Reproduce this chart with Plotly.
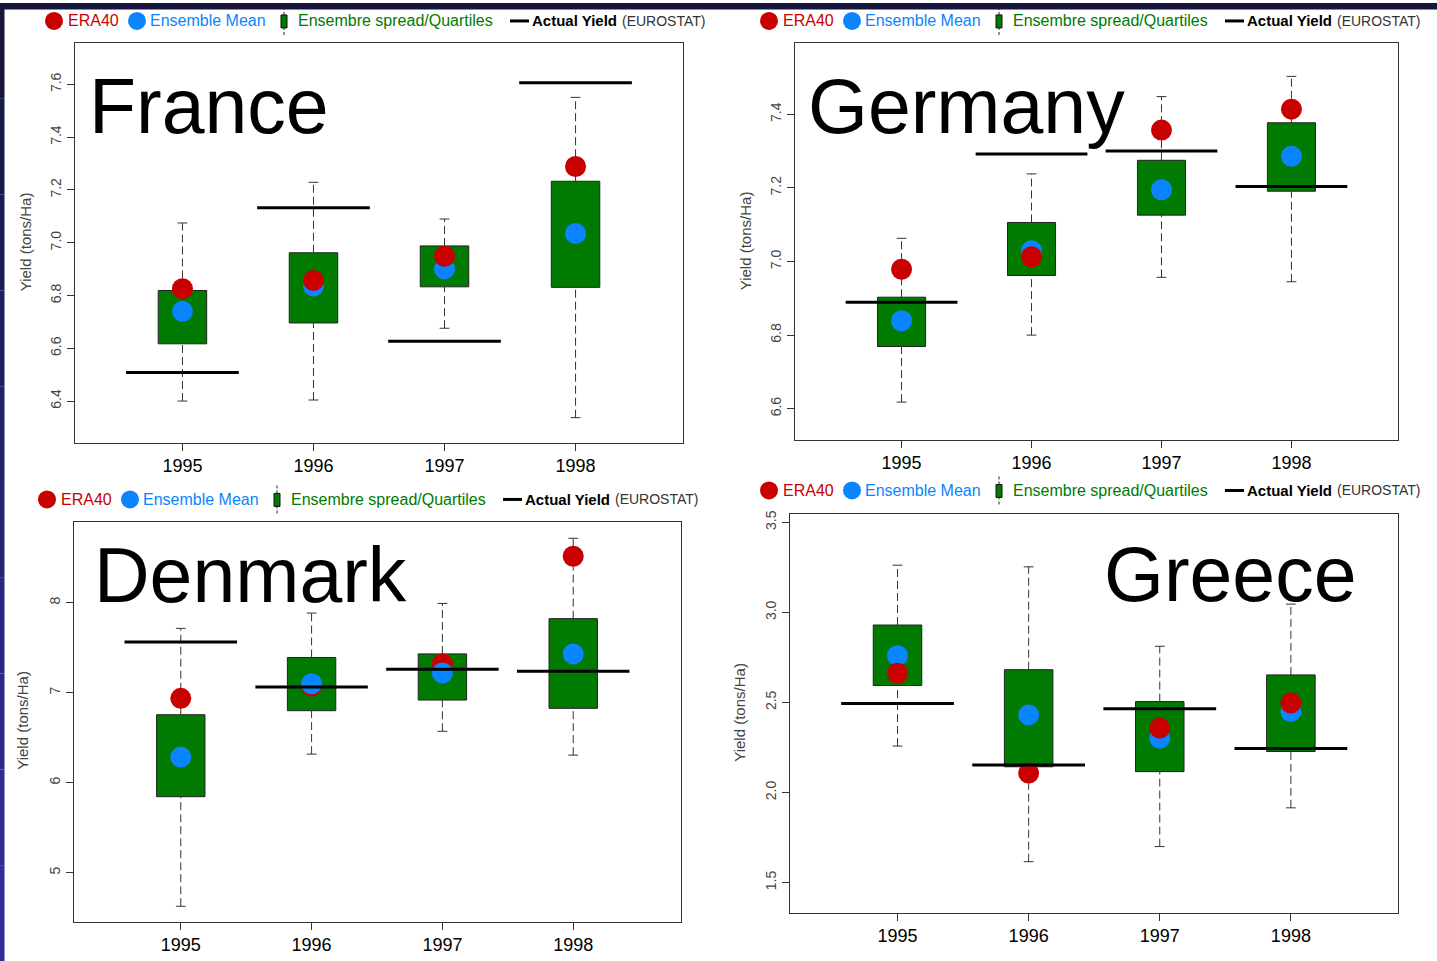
import plotly.graph_objects as go

years = ["1995", "1996", "1997", "1998"]

# France
fr_low = [6.400, 6.404, 6.676, 6.337]
fr_q1 = [6.617, 6.696, 6.833, 6.831]
fr_q3 = [6.819, 6.962, 6.988, 7.233]
fr_high = [7.075, 7.229, 7.090, 7.551]
fr_era40 = [6.826, 6.857, 6.949, 7.289]
fr_mean = [6.740, 6.836, 6.901, 7.035]
fr_actual = [6.508, 7.133, 6.627, 7.606]

# Germany
de_low = [6.618, 6.800, 6.957, 6.945]
de_q1 = [6.769, 6.962, 7.126, 7.191]
de_q3 = [6.903, 7.106, 7.275, 7.377]
de_high = [7.063, 7.238, 7.448, 7.503]
de_era40 = [6.979, 7.013, 7.357, 7.414]
de_mean = [6.839, 7.029, 7.195, 7.286]
de_actual = [6.889, 7.292, 7.300, 7.204]

# Denmark
dk_low = [4.626, 6.317, 6.571, 6.306]
dk_q1 = [5.844, 6.800, 6.918, 6.826]
dk_q3 = [6.755, 7.391, 7.431, 7.823]
dk_high = [7.715, 7.885, 7.992, 8.716]
dk_era40 = [6.937, 7.073, 7.320, 8.516]
dk_mean = [6.284, 7.099, 7.220, 7.431]
dk_actual = [7.564, 7.062, 7.261, 7.239]

# Greece
gr_low = [2.258, 1.616, 1.700, 1.915]
gr_q1 = [2.594, 2.143, 2.116, 2.228]
gr_q3 = [2.930, 2.682, 2.505, 2.653]
gr_high = [3.262, 3.253, 2.812, 3.046]
gr_era40 = [2.662, 2.108, 2.358, 2.498]
gr_mean = [2.760, 2.431, 2.302, 2.450]
gr_actual = [2.494, 2.153, 2.465, 2.245]

W, H = 1437, 961
RED = "#C80000"
BLUE = "#0A84FF"
GREEN = "#007A00"


def px(x):
    return x / W


def py(y):
    return 1 - y / H


panels = [
    dict(name="France", data=(fr_low, fr_q1, fr_q3, fr_high, fr_era40, fr_mean, fr_actual),
         xdom=(75, 683), ydom=(40, 441), yrange=[6.2425, 7.7575],
         yticks=[6.4, 6.6, 6.8, 7.0, 7.2, 7.4, 7.6], fmt=".1f",
         title=(87, 103), legend=(54, 18), ylabel=(25, 240), red_top=True),
    dict(name="Germany", data=(de_low, de_q1, de_q3, de_high, de_era40, de_mean, de_actual),
         xdom=(795, 1398), ydom=(40, 438), yrange=[6.516, 7.594],
         yticks=[6.6, 6.8, 7.0, 7.2, 7.4], fmt=".1f",
         title=(806, 103), legend=(769, 18), ylabel=(745, 239), red_top=True),
    dict(name="Denmark", data=(dk_low, dk_q1, dk_q3, dk_high, dk_era40, dk_mean, dk_actual),
         xdom=(73.5, 680.5), ydom=(521, 921.7), yrange=[4.453, 8.893],
         yticks=[5, 6, 7, 8], fmt="d",
         title=(92, 574), legend=(47, 498), ylabel=(23, 720), red_top=False),
    dict(name="Greece", data=(gr_low, gr_q1, gr_q3, gr_high, gr_era40, gr_mean, gr_actual),
         xdom=(790, 1398.4), ydom=(512.3, 912.7), yrange=[1.332, 3.548],
         yticks=[1.5, 2.0, 2.5, 3.0, 3.5], fmt=".1f",
         title=(1102, 573), legend=(769, 489), ylabel=(740, 712), red_top=True),
]

xpos = list(range(1, len(years) + 1))

fig = go.Figure()
shapes = []
annotations = []

for k, p in enumerate(panels, start=1):
    xa = "x" if k == 1 else f"x{k}"
    ya = "y" if k == 1 else f"y{k}"
    low, q1, q3, high, era, mean, actual = p["data"]

    # boxes
    fig.add_trace(go.Bar(x=xpos, y=[b - a for a, b in zip(q1, q3)], base=q1, width=0.37,
                         marker=dict(color=GREEN, line=dict(color="#222", width=1)),
                         xaxis=xa, yaxis=ya, showlegend=False, hoverinfo="skip"))
    # whiskers
    wx, wy = [], []
    for x, lo, a, b, hi in zip(xpos, low, q1, q3, high):
        wx += [x, x, None, x, x, None]
        wy += [lo, a, None, b, hi, None]
    fig.add_trace(go.Scatter(x=wx, y=wy, mode="lines",
                             line=dict(color="#333", width=1, dash="8px,4px"),
                             xaxis=xa, yaxis=ya, showlegend=False, hoverinfo="skip"))
    fig.add_trace(go.Scatter(x=xpos + xpos, y=low + high, mode="markers",
                             marker=dict(symbol="line-ew", size=7, line=dict(color="#333", width=1)),
                             xaxis=xa, yaxis=ya, showlegend=False, hoverinfo="skip"))

    red = go.Scatter(x=xpos, y=era, mode="markers", marker=dict(color=RED, size=21),
                     xaxis=xa, yaxis=ya, showlegend=False)
    blue = go.Scatter(x=xpos, y=mean, mode="markers", marker=dict(color=BLUE, size=21),
                      xaxis=xa, yaxis=ya, showlegend=False)
    if p["red_top"]:
        fig.add_trace(blue)
        fig.add_trace(red)
    else:
        fig.add_trace(red)
        fig.add_trace(blue)

    # actual yield
    ax_, ay_ = [], []
    for x, v in zip(xpos, actual):
        ax_ += [x - 0.43, x + 0.43, None]
        ay_ += [v, v, None]
    fig.add_trace(go.Scatter(x=ax_, y=ay_, mode="lines", line=dict(color="black", width=3),
                             xaxis=xa, yaxis=ya, showlegend=False, hoverinfo="skip"))

    x0, x1 = p["xdom"]
    yt, yb = p["ydom"]
    fig.layout[("xaxis" if k == 1 else f"xaxis{k}")] = dict(
        domain=[px(x0), px(x1)], anchor=ya, range=[0.18, 4.82],
        tickvals=xpos, ticktext=years, ticks="outside", ticklen=7, tickcolor="#333",
        showline=True, linecolor="#333", linewidth=1, mirror=True,
        showgrid=False, zeroline=False, tickfont=dict(size=18, color="black"))
    fig.layout[("yaxis" if k == 1 else f"yaxis{k}")] = dict(
        domain=[py(yb), py(yt)], anchor=xa, range=p["yrange"],
        tickvals=p["yticks"], tickformat=p["fmt"], tickangle=-90,
        ticks="outside", ticklen=7, tickcolor="#333",
        showline=True, linecolor="#333", linewidth=1, mirror=True,
        showgrid=False, zeroline=False, tickfont=dict(size=14, color="#444"))

    # big country title
    tx, ty = p["title"]
    annotations.append(dict(x=px(tx), y=py(ty), xref="paper", yref="paper", text=p["name"],
                            showarrow=False, xanchor="left", yanchor="middle",
                            font=dict(size=77, color="black", family="Liberation Sans")))
    # y label
    lx, ly = p["ylabel"]
    annotations.append(dict(x=px(lx), y=py(ly), xref="paper", yref="paper", text="Yield (tons/Ha)",
                            showarrow=False, textangle=-90, xanchor="center", yanchor="middle",
                            font=dict(size=15, color="#444")))

    # legend row
    ox, oy = p["legend"]
    X, Y = px(ox), py(oy)
    for dx, col in [(0, RED), (83, BLUE)]:
        shapes.append(dict(type="circle", xref="paper", yref="paper", xsizemode="pixel", ysizemode="pixel",
                           xanchor=px(ox + dx), yanchor=Y, x0=-9, x1=9, y0=-9, y1=9,
                           fillcolor=col, line=dict(width=0)))
    shapes.append(dict(type="line", xref="paper", yref="paper", xsizemode="pixel", ysizemode="pixel",
                       xanchor=px(ox + 230), yanchor=Y, x0=0, x1=0, y0=-14, y1=14,
                       line=dict(color="#222", width=1, dash="3px,2px")))
    shapes.append(dict(type="rect", xref="paper", yref="paper", xsizemode="pixel", ysizemode="pixel",
                       xanchor=px(ox + 230), yanchor=Y, x0=-3, x1=3, y0=-7, y1=6,
                       fillcolor=GREEN, line=dict(color="#111", width=1)))
    shapes.append(dict(type="line", xref="paper", yref="paper", xsizemode="pixel", ysizemode="pixel",
                       xanchor=px(ox + 456), yanchor=Y, x0=0, x1=19, y0=0, y1=0,
                       line=dict(color="black", width=3)))
    legend_items = [
        (12, "ERA40", RED, 16),
        (94, "Ensemble Mean", BLUE, 16),
        (242, "Ensembre spread/Quartiles", GREEN, 16),
        (476, "<b>Actual Yield</b>", "black", 15),
        (566, "(EUROSTAT)", "#333", 14),
    ]
    for dx, txt, col, sz in legend_items:
        annotations.append(dict(x=px(ox + dx), y=Y, xref="paper", yref="paper", text=txt,
                                showarrow=False, xanchor="left", yanchor="middle",
                                font=dict(size=sz, color=col)))

# slide background strips
shapes.append(dict(type="rect", xref="paper", yref="paper", x0=0, x1=1, y0=py(6.5), y1=1,
                   fillcolor="#16163C", line=dict(width=0), layer="above"))
strip_cols = ["#16163C", "#18184A", "#1B1B55", "#1E1E60", "#21216B", "#242476",
              "#272780", "#2A2A8A", "#2C2C91", "#2E2E96"]
n = len(strip_cols)
for i, c in enumerate(strip_cols):
    shapes.append(dict(type="rect", xref="paper", yref="paper", x0=0, x1=px(4.5),
                       y0=1 - (i + 1) / n, y1=1 - i / n, fillcolor=c, line=dict(width=0), layer="above"))

fig.update_layout(width=W, height=H, margin=dict(l=0, r=0, t=0, b=0),
                  paper_bgcolor="white", plot_bgcolor="white",
                  font=dict(family="Liberation Sans, Arial, sans-serif"),
                  shapes=shapes, annotations=annotations, showlegend=False, barmode="overlay")

fig.write_html("out.html", config={"displayModeBar": False},
               post_script="document.body.style.margin='0';document.body.style.overflow='hidden';")
